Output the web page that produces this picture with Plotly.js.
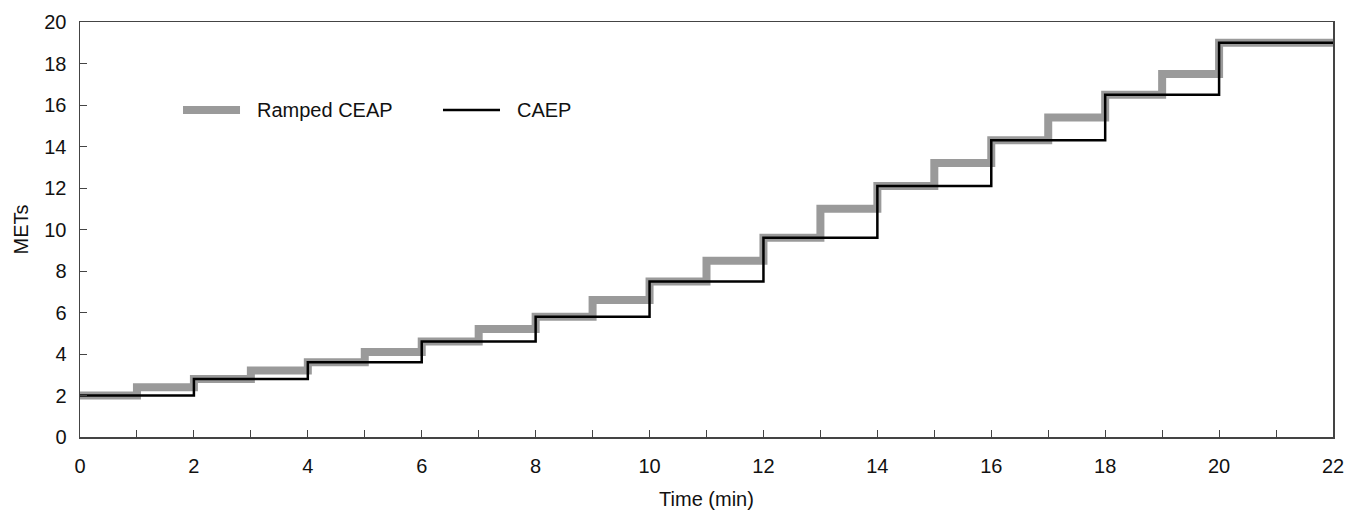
<!DOCTYPE html>
<html>
<head>
<meta charset="utf-8">
<script src="https://cdn.plot.ly/plotly-3.0.1.min.js"></script>
<style>html,body{margin:0;padding:0;background:#fff;}#chart{width:1359px;height:514px;}</style>
</head>
<body>
<div id="chart"></div>
<script>
// Ramped CEAP: 1-minute stages (last value repeated to close the step at 22 min)
const rampTime = [0,1,2,3,4,5,6,7,8,9,10,11,12,13,14,15,16,17,18,19,20,22];
const rampMets = [2.0,2.4,2.8,3.2,3.6,4.1,4.6,5.2,5.8,6.6,7.5,8.5,9.6,11.0,12.1,13.2,14.3,15.4,16.5,17.5,19.0,19.0];
// CAEP: 2-minute stages
const caepTime = [0,2,4,6,8,10,12,14,16,18,20,22];
const caepMets = [2.0,2.8,3.6,4.6,5.8,7.5,9.6,12.1,14.3,16.5,19.0,19.0];
const xTickVals = [0,2,4,6,8,10,12,14,16,18,20,22];
const yTickVals = [0,2,4,6,8,10,12,14,16,18,20];
const seriesNames = ['Ramped CEAP', 'CAEP'];

const FAM = 'Liberation Sans, Arial, sans-serif';
const font = {family: FAM, size: 20, color: '#111'};
const GRAY = '#9a9a9a';

const traces = [
  {x: rampTime, y: rampMets, type: 'scatter', mode: 'lines', name: seriesNames[0],
   line: {shape: 'hv', color: GRAY, width: 8}},
  {x: caepTime, y: caepMets, type: 'scatter', mode: 'lines', name: seriesNames[1],
   line: {shape: 'hv', color: '#000', width: 2.5}}
];

// Legend drawn as paper-positioned key lines + labels
const legY = 0.788;
const shapes = [
  {type: 'line', xref: 'paper', yref: 'paper', x0: 0.0822, x1: 0.1277, y0: legY, y1: legY,
   line: {color: GRAY, width: 8}},
  {type: 'line', xref: 'paper', yref: 'paper', x0: 0.2897, x1: 0.3352, y0: legY, y1: legY,
   line: {color: '#000', width: 2.5}}
];
const annotations = [
  {xref: 'paper', yref: 'paper', x: 0.1397, y: legY, xanchor: 'left', yanchor: 'middle',
   text: seriesNames[0], showarrow: false, font: font},
  {xref: 'paper', yref: 'paper', x: 0.3472, y: legY, xanchor: 'left', yanchor: 'middle',
   text: seriesNames[1], showarrow: false, font: font}
];

const layout = {
  width: 1359, height: 514,
  margin: {l: 80, r: 26, t: 22, b: 77},
  paper_bgcolor: '#fff', plot_bgcolor: '#fff',
  font: font,
  showlegend: false,
  shapes: shapes,
  annotations: annotations,
  xaxis: {range: [0, 22], tickvals: xTickVals, ticks: 'inside', ticklen: 7, tickcolor: '#444',
          ticklabelstandoff: 10,
          showgrid: false, zeroline: false, showline: true, linecolor: '#444', linewidth: 1.5, mirror: true,
          minor: {dtick: 1, ticks: 'inside', ticklen: 7, tickcolor: '#444', showgrid: false},
          title: {text: 'Time (min)', font: font, standoff: 16},
          tickfont: font, fixedrange: true},
  yaxis: {range: [0, 20], tickvals: yTickVals, ticks: 'inside', ticklen: 7, tickcolor: '#444',
          ticklabelstandoff: 8,
          showgrid: false, zeroline: false, showline: true, linecolor: '#444', linewidth: 1.5, mirror: true,
          title: {text: 'METs', font: font, standoff: 10},
          tickfont: font, fixedrange: true}
};

Plotly.newPlot('chart', traces, layout, {displayModeBar: false, staticPlot: true});
</script>
</body>
</html>
